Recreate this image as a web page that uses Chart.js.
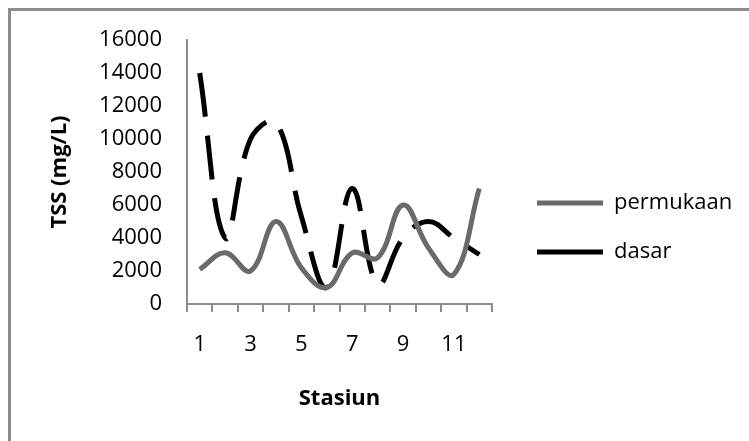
<!DOCTYPE html>
<html>
<head>
<meta charset="utf-8">
<script src="https://cdn.jsdelivr.net/npm/chart.js@4.4.1/dist/chart.umd.min.js"></script>
<style>
  html, body { margin: 0; padding: 0; background: #fff; overflow: hidden; }
  #wrap { position: relative; width: 749px; height: 441px; }
  #frame {
    position: absolute; left: 8px; top: 8px; right: -10px; bottom: -10px;
    border-top: 3px solid #8c8c8c; border-left: 3px solid #8c8c8c;
    pointer-events: none;
  }
  canvas { position: absolute; left: 0; top: 0; }
</style>
</head>
<body>
<div id="wrap">
  <canvas id="chart" width="749" height="441"></canvas>
  <div id="frame"></div>
</div>
<script>
  const stations = ["1", "2", "3", "4", "5", "6", "7", "8", "9", "10", "11", "12"];
  const permukaan = [2100, 3100, 2000, 5000, 2200, 1000, 3100, 2800, 6000, 3400, 1800, 7000];
  const dasar = [14000, 4000, 10000, 11000, 5300, 1000, 7000, 1200, 4000, 5000, 4000, 3000];
  const yTicks = [0, 2000, 4000, 6000, 8000, 10000, 12000, 14000, 16000];

  const axisColor = "#8c8c8c";
  const fontFamily = "'Open Sans', 'Noto Sans', sans-serif";

  // move the legend block to where the original sits, and let it run to the edge
  const legendNudge = {
    id: "legendNudge",
    afterLayout(chart) {
      const lg = chart.legend;
      lg.left += 18;
      lg.right = chart.width;
      lg.width = lg.right - lg.left;
      lg.top -= 13;
      lg.bottom -= 13;
    },
  };

  const ctx = document.getElementById("chart").getContext("2d");

  new Chart(ctx, {
    type: "line",
    data: {
      labels: stations,
      datasets: [
        {
          label: "permukaan",
          data: permukaan,
          borderColor: "#6a6a6a",
          backgroundColor: "#6a6a6a",
          borderWidth: 5,
          pointRadius: 0,
          tension: 0.4,
          borderCapStyle: "butt",
        },
        {
          label: "dasar",
          data: dasar,
          borderColor: "#000000",
          backgroundColor: "#000000",
          borderWidth: 5,
          borderDash: [44, 19],
          pointRadius: 0,
          tension: 0.4,
          borderCapStyle: "butt",
        },
      ],
    },
    options: {
      responsive: false,
      animation: false,
      devicePixelRatio: 1,
      layout: { padding: { top: 40, left: 0, right: 57, bottom: 0 } },
      plugins: {
        tooltip: { enabled: false },
        legend: {
          position: "right",
          maxWidth: 200,
          labels: {
            usePointStyle: true,
            pointStyle: "line",
            pointStyleWidth: 66,
            padding: 27,
            color: "#000",
            font: { family: fontFamily, size: 22 },
            generateLabels(chart) {
              const items = Chart.defaults.plugins.legend.labels.generateLabels(chart);
              items.forEach((it) => {
                if (it.lineDash && it.lineDash.length) it.lineDash = [36, 21];
                it.lineCap = "butt";
              });
              return items;
            },
          },
        },
      },
      scales: {
        x: {
          offset: true,
          grid: {
            offset: true,
            drawOnChartArea: false,
            drawTicks: true,
            tickLength: 8,
            color: axisColor,
            lineWidth: 2,
          },
          border: { display: true, color: axisColor, width: 2 },
          ticks: {
            autoSkip: false,
            maxRotation: 0,
            padding: 20,
            color: "#000",
            font: { family: fontFamily, size: 22 },
            callback(value, index) {
              return index % 2 === 0 ? stations[index] : "";
            },
          },
          title: {
            display: true,
            text: "Stasiun",
            color: "#000",
            font: { family: fontFamily, size: 22, weight: "bold" },
            padding: { top: 0, bottom: 29 },
          },
          afterFit(scale) {
            scale.height = 137;
          },
        },
        y: {
          min: yTicks[0],
          max: yTicks[yTicks.length - 1],
          grid: { display: false, drawTicks: false },
          border: { display: true, color: axisColor, width: 2 },
          ticks: {
            stepSize: 2000,
            padding: 25,
            color: "#000",
            font: { family: fontFamily, size: 22 },
            callback(value) {
              return String(value);
            },
          },
          title: {
            display: true,
            text: "TSS (mg/L)",
            color: "#000",
            font: { family: fontFamily, size: 22, weight: "bold" },
            padding: { top: 47, bottom: 0 },
          },
          afterFit(scale) {
            scale.width = 187;
          },
        },
      },
    },
    plugins: [legendNudge],
  });
</script>
</body>
</html>
